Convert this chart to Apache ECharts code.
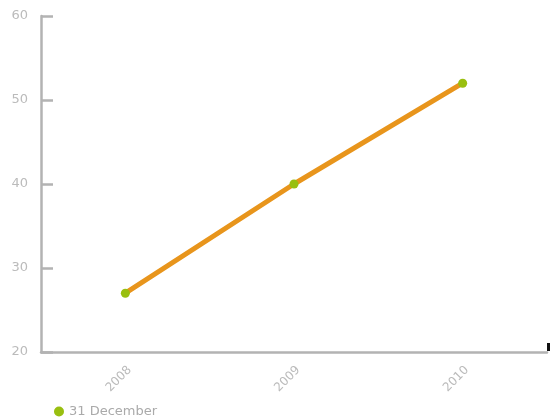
<!DOCTYPE html>
<html><head><meta charset="utf-8">
<script src="https://cdn.jsdelivr.net/npm/echarts@6/dist/echarts.min.js"></script>
<style>html,body{margin:0;padding:0;background:#fff}#c{width:551px;height:417px}</style>
</head><body><div id="c"></div>
<script>
const categories = ['2008', '2009', '2010'];
const seriesName = '31 December';
const values = [27, 40, 52];
const yTicks = [20, 30, 40, 50, 60];

const chart = echarts.init(document.getElementById('c'), null, {renderer: 'canvas'});
chart.setOption({
  animation: false,
  grid: {left: 41, right: 4, top: 16, bottom: 65, containLabel: false},
  legend: {
    left: 49, top: 400, itemWidth: 10, itemHeight: 10, icon: 'circle', itemGap: 6,
    textStyle: {color: '#aaa', fontSize: 13, fontFamily: 'DejaVu Sans'},
    data: [{name: seriesName, itemStyle: {color: '#99bf10'}}]
  },
  xAxis: {
    type: 'category', data: categories, boundaryGap: true,
    axisLine: {lineStyle: {color: '#b3b3b3', width: 2.5}},
    axisTick: {alignWithLabel: true, inside: true, length: 7, lineStyle: {color: '#b3b3b3', width: 2}},
    axisLabel: {rotate: 45, color: '#bbb', fontSize: 12, fontFamily: 'DejaVu Sans', margin: 12, verticalAlign: 'top'},
    splitLine: {show: false}
  },
  yAxis: {
    type: 'value', min: yTicks[0], max: yTicks[yTicks.length - 1], interval: 10,
    axisLine: {show: true, lineStyle: {color: '#b3b3b3', width: 2.5}},
    axisTick: {show: true, inside: true, length: 12, lineStyle: {color: '#b3b3b3', width: 2.5}},
    axisLabel: {color: '#bbb', fontSize: 13, fontFamily: 'DejaVu Sans', margin: 13},
    splitLine: {show: false}
  },
  series: [{
    name: seriesName, type: 'line', data: values,
    lineStyle: {color: '#e8951c', width: 5},
    itemStyle: {color: '#99bf10'},
    symbol: 'circle', symbolSize: 9, showSymbol: true
  }],
  graphic: [{type: 'rect', shape: {x: 547, y: 343, width: 3, height: 8}, style: {fill: '#111'}}]
});
</script></body></html>
